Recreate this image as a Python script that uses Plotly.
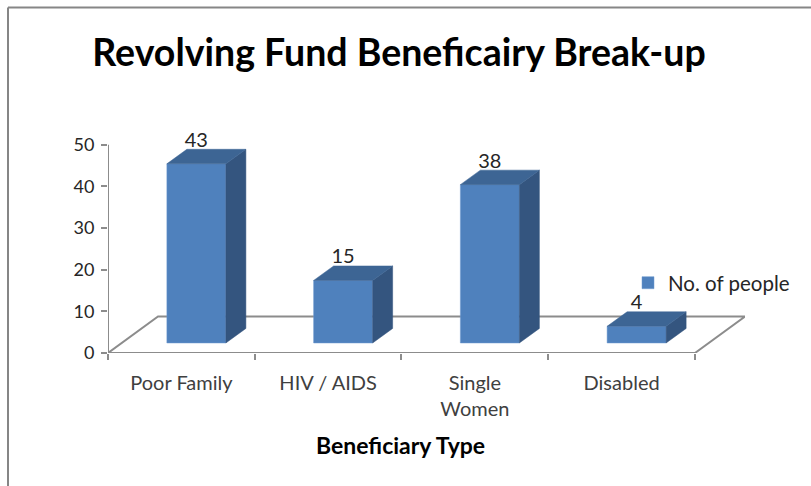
import plotly.graph_objects as go

TITLE = "Revolving Fund Beneficairy Break-up"
X_TITLE = "Beneficiary Type"
SERIES = "No. of people"
categories = ["Poor Family", "HIV / AIDS", "Single<br>Women", "Disabled"]
values = [43, 15, 38, 4]
y_ticks = [0, 10, 20, 30, 40, 50]

W, H = 811, 486
px_x = 146.7
px_y = 4.16
Y_MAX = 60
L, R, B = 108, 66, 133
T = H - B - Y_MAX * px_y

FRONT, SIDE, TOP = "#4F81BD", "#34557F", "#3D6594"
GREY = "#8C8C8C"
FONT = "Lato"

dx = 20 / px_x
dy = 14.5 / px_y
base = 10 / px_y
bar_w = 59 / px_x
shift = 15 / px_x
n = len(categories)
floor_dx = 50 / px_x
floor_dy = 36.5 / px_y
centers = [i + 0.5 + shift for i in range(n)]
x_range = [0, n + floor_dx]
y_range = [0, Y_MAX]

fig = go.Figure()
fig.add_trace(go.Scatter(
    x=[0, floor_dx, n + floor_dx, n, 0],
    y=[0, floor_dy, floor_dy, 0, 0],
    mode="lines", line=dict(color=GREY, width=2),
    showlegend=False, hoverinfo="skip", cliponaxis=False))
fig.add_trace(go.Scatter(
    x=[0, 0], y=[y_ticks[0], y_ticks[-1]],
    mode="lines", line=dict(color=GREY, width=2),
    showlegend=False, hoverinfo="skip", cliponaxis=False))

side_x, side_y, top_x, top_y = [], [], [], []
for c, v in zip(centers, values):
    r, l = c + bar_w / 2, c - bar_w / 2
    side_x += [r, r + dx, r + dx, r, r, None]
    side_y += [base, base + dy, base + v + dy, base + v, base, None]
    top_x += [l, l + dx, r + dx, r, l, None]
    top_y += [base + v, base + v + dy, base + v + dy, base + v, base + v, None]

fig.add_trace(go.Bar(x=centers, y=values, base=[base] * n, width=bar_w, name=SERIES,
                     xaxis="x2", yaxis="y2",
                     marker=dict(color=FRONT, line=dict(color="#6F9AD0", width=0.5))))
fig.add_trace(go.Scatter(x=side_x, y=side_y, mode="lines", fill="toself", fillcolor=SIDE,
                         line=dict(color=SIDE, width=0.5), showlegend=False,
                         xaxis="x2", yaxis="y2", hoverinfo="skip", cliponaxis=False))
fig.add_trace(go.Scatter(x=top_x, y=top_y, mode="lines", fill="toself", fillcolor=TOP,
                         line=dict(color=TOP, width=0.5), showlegend=False,
                         xaxis="x2", yaxis="y2", hoverinfo="skip", cliponaxis=False))
fig.add_trace(go.Scatter(x=centers, y=[base + v + 22 / px_y for v in values],
                         mode="text", text=[str(v) for v in values],
                         textfont=dict(family=FONT, size=20, color="#262626"),
                         xaxis="x2", yaxis="y2",
                         showlegend=False, cliponaxis=False, hoverinfo="skip"))

frame_x = (8 - L) / (W - L - R)
frame_y = (H - B - 8) / (H - T - B)
fig.update_layout(
    width=W, height=H, autosize=False,
    margin=dict(l=L, r=R, t=T, b=B, pad=0),
    paper_bgcolor="white", plot_bgcolor="rgba(0,0,0,0)",
    title=dict(text=f"<b>{TITLE}</b>", x=399 / W, xanchor="center", y=1 - 53 / H, yanchor="middle",
               font=dict(family=FONT, size=37.5, color="#000000")),
    xaxis=dict(range=x_range, tickmode="array",
               tickvals=[i + 0.5 for i in range(n)], ticktext=categories,
               ticks="", showgrid=False, zeroline=False, showline=False,
               minor=dict(ticks="outside", tick0=0, dtick=1, ticklen=6, tickwidth=2,
                          tickcolor=GREY, showgrid=False),
               tickfont=dict(family=FONT, size=20, color="#404040"), ticklabelstandoff=16),
    yaxis=dict(range=y_range, tickvals=y_ticks, showgrid=False, zeroline=False,
               showline=False, ticks="outside", ticklen=6,
               tickwidth=2, tickcolor=GREY, ticklabelstandoff=3,
               tickfont=dict(family=FONT, size=18, color="#262626")),
    xaxis2=dict(range=x_range, overlaying="x", visible=False),
    yaxis2=dict(range=y_range, overlaying="y", visible=False),
    legend=dict(x=(628 - L) / (W - L - R), y=(H - B - 283) / (H - T - B), xanchor="left", yanchor="middle",
                bgcolor="rgba(0,0,0,0)",
                font=dict(family=FONT, size=20.5, color="#262626")),
    showlegend=True,
    annotations=[dict(text=f"<b>{X_TITLE}</b>", xref="paper", yref="paper",
                      x=(400 - L) / (W - L - R), y=(H - B - 445) / (H - T - B),
                      xanchor="center", yanchor="middle", showarrow=False,
                      font=dict(family=FONT, size=23, color="#000000"))],
    shapes=[
        dict(type="line", xref="paper", yref="paper", x0=frame_x, x1=frame_x,
             y0=frame_y, y1=(H - B - H) / (H - T - B), line=dict(color="#868686", width=2)),
        dict(type="line", xref="paper", yref="paper", x0=frame_x, x1=(W - L) / (W - L - R),
             y0=frame_y, y1=frame_y, line=dict(color="#868686", width=2)),
    ],
)
fig.write_html("out.html", config={"displayModeBar": False},
               post_script="document.body.style.margin='0';document.body.style.overflow='hidden';")
